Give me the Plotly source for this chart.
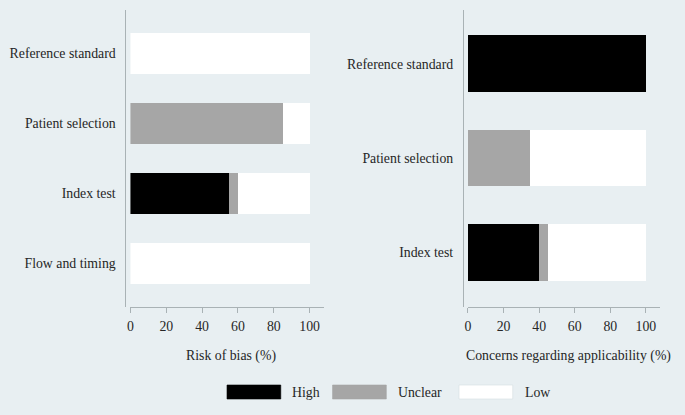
import plotly.graph_objects as go

# ---- data ----
categories_rob = ["Reference standard", "Patient selection", "Index test", "Flow and timing"]
rob_high = [0, 0, 55, 0]
rob_unclear = [0, 85, 5, 0]
rob_low = [100, 15, 40, 100]

categories_app = ["Reference standard", "Patient selection", "Index test"]
app_high = [100, 0, 40]
app_unclear = [0, 35, 5]
app_low = [0, 65, 55]

x_ticks = [0, 20, 40, 60, 80, 100]
levels = ["High", "Unclear", "Low"]
colors = {"High": "#000000", "Unclear": "#A6A6A6", "Low": "#FFFFFF"}

# ---- layout constants ----
W, H = 685, 415
BG = "#E8EFF2"
AXC = "#A9B2B5"
TXT = "#262626"
FONT = "Liberation Serif, Times New Roman, Times, serif"
FS = 13.8


def px(x):
    return x / W


def py(y):
    return 1 - y / H


fig = go.Figure()

for lvl, vals in zip(levels, [rob_high, rob_unclear, rob_low]):
    fig.add_trace(go.Bar(y=categories_rob, x=vals, orientation="h", name=lvl,
                         marker=dict(color=colors[lvl], line=dict(width=0)),
                         width=0.58, xaxis="x", yaxis="y", showlegend=False))
for lvl, vals in zip(levels, [app_high, app_unclear, app_low]):
    fig.add_trace(go.Bar(y=categories_app, x=vals, orientation="h", name=lvl,
                         marker=dict(color=colors[lvl], line=dict(width=0)),
                         width=0.6, xaxis="x2", yaxis="y2", showlegend=False))

ydom = [py(307), py(10)]
xaxis_common = dict(showgrid=False, zeroline=False, showline=True, linecolor=AXC, linewidth=1,
                    ticks="outside", ticklen=5, tickcolor=AXC, tickvals=x_ticks,
                    tickfont=dict(family=FONT, size=FS, color=TXT), fixedrange=True,
                    ticklabelstandoff=1)
yaxis_common = dict(type="category", showgrid=False, zeroline=False, showline=True,
                    linecolor=AXC, linewidth=1, ticks="", anchor="free",
                    tickfont=dict(family=FONT, size=FS, color=TXT), domain=ydom,
                    ticklabelstandoff=7, fixedrange=True)

fig.update_layout(
    width=W, height=H, autosize=False,
    margin=dict(l=0, r=0, t=0, b=0),
    paper_bgcolor=BG, plot_bgcolor=BG,
    barmode="stack", showlegend=False,
    font=dict(family=FONT, size=FS, color=TXT),
    xaxis=dict(domain=[px(128), px(322)], range=[0, 107.8], anchor="y", **xaxis_common),
    yaxis=dict(position=px(123), categoryorder="array", categoryarray=categories_rob,
               range=[3.62, -0.62], **yaxis_common),
    xaxis2=dict(domain=[px(467), px(660)], range=[0, 108], anchor="y2", **xaxis_common),
    yaxis2=dict(position=px(462), categoryorder="array", categoryarray=categories_app,
                range=[2.58, -0.57], **yaxis_common),
)

annotations = [
    dict(text="Risk of bias (%)", x=px(229.5), y=py(356), xref="paper", yref="paper",
         showarrow=False, xanchor="center", yanchor="middle", font=dict(family=FONT, size=FS, color=TXT)),
    dict(text="Concerns regarding applicability (%)", x=px(568), y=py(356), xref="paper",
         yref="paper", showarrow=False, xanchor="center", yanchor="middle",
         font=dict(family=FONT, size=FS, color=TXT)),
]

# legend (manual keys)
legend_boxes = {"High": (225, 279, 288), "Unclear": (331, 385, 395), "Low": (458, 512, 522)}
shapes = []
for lvl in levels:
    x0, x1, tx = legend_boxes[lvl]
    shapes.append(dict(type="rect", xref="paper", yref="paper", x0=px(x0), x1=px(x1),
                       y0=py(399), y1=py(385), fillcolor=colors[lvl],
                       line=dict(width=0.6, color="#D5DDE0" if lvl == "Low" else colors[lvl])))
    annotations.append(dict(text=lvl, x=px(tx), y=py(392), xref="paper", yref="paper",
                            showarrow=False, xanchor="left", yanchor="middle",
                            font=dict(family=FONT, size=FS, color=TXT)))

fig.update_layout(annotations=annotations, shapes=shapes)

fig.write_html("out.html", config={"displayModeBar": False},
               post_script="document.body.style.margin='0';document.body.style.padding='0';")
